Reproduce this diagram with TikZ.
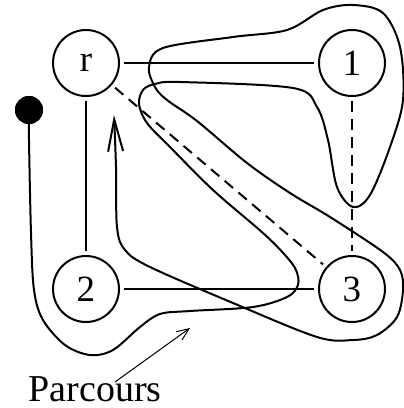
\documentclass[tikz,border=0pt]{standalone}
\usepackage{fontspec}
\setmainfont{Liberation Serif}
\usepackage{tikz}
\usetikzlibrary{matrix, positioning, calc, arrows.meta}
\tikzset{% styles of the tour picture
	state/.style={shape=circle,draw,line width=1pt,minimum size=33pt,inner sep=0pt,font=\fontsize{18.5}{20}\selectfont},
	plainline/.style={black, line width=1pt, shorten <=2pt, shorten >=2pt},
	dashline/.style={plainline, dash pattern=on 5.5pt off 3.5pt},
	tourline/.style={line width=1pt, -{Straight Barb[length=16pt,width=7.5pt]}},
	thinarrow/.style={line width=0.5pt, -{Straight Barb[length=6pt,width=5pt]}},
	blackdot/.style={shape=circle,fill=black,minimum size=14pt,inner sep=0pt},
}
\begin{document}
\begin{tikzpicture}[x=0.5pt,y=-0.5pt]
				\useasboundingbox (0,0) rectangle (403,408);
				\matrix[%
				matrix of nodes,
				nodes={state, anchor=center},
				column sep=99pt, row sep=79pt,
				] (s) at (219,176) {%
					r & 1 \\
					2 & 3 \\
				};
				
				\draw[plainline] (s-1-1) -- (s-1-2);
				\draw[plainline] (s-1-1) -- (s-2-1);
				\draw[plainline] (s-2-1) -- (s-2-2);
				\draw[dashline] (s-1-1) -- (s-2-2);
				\draw[dashline] (s-1-2) -- (s-2-2);
				
				% the tour
				\node[blackdot] (start) at (29,110) {};
				\draw[tourline] plot[smooth, tension=0.55] coordinates {
					(start) (29,140) (31,233) (34,290) (43,320) (65,345) (90,355)
					(113,350) (140,327) (160,314) (190,311) (253,307) (287,297)
					(298,285) (296,270) (285,255) (263,233) (213,190) (170,147)
					(147,123) (139,104) (143,90) (155,84) (180,82) (293,88)
					(317,107) (328,140) (337,187) (353,207)
					(370,195) (390,147) (403,100) (400,47) (383,13) (353,5)
					(323,10) (287,30) (233,37) (163,48) (149,67) (155,87)
					(167,100) (197,121) (247,163) (290,193) (330,217)
					(383,252) (400,270) (403,290) (397,317)
					(377,335) (353,340) (317,337) (233,303) (150,267) (125,250)
					(117,227) (116,167) (114,115)};
				\node[blackdot] at (start) {};
				
				\node[below=23.5pt of s-2-1, xshift=4.5pt, font=\fontsize{19}{20}\selectfont] (parcours) {Parcours};
				\coordinate (aim) at (190,328);
				\draw[thinarrow] ([xshift=10pt,yshift=-6pt]parcours.north) -- (aim);
				\end{tikzpicture}
\end{document}
